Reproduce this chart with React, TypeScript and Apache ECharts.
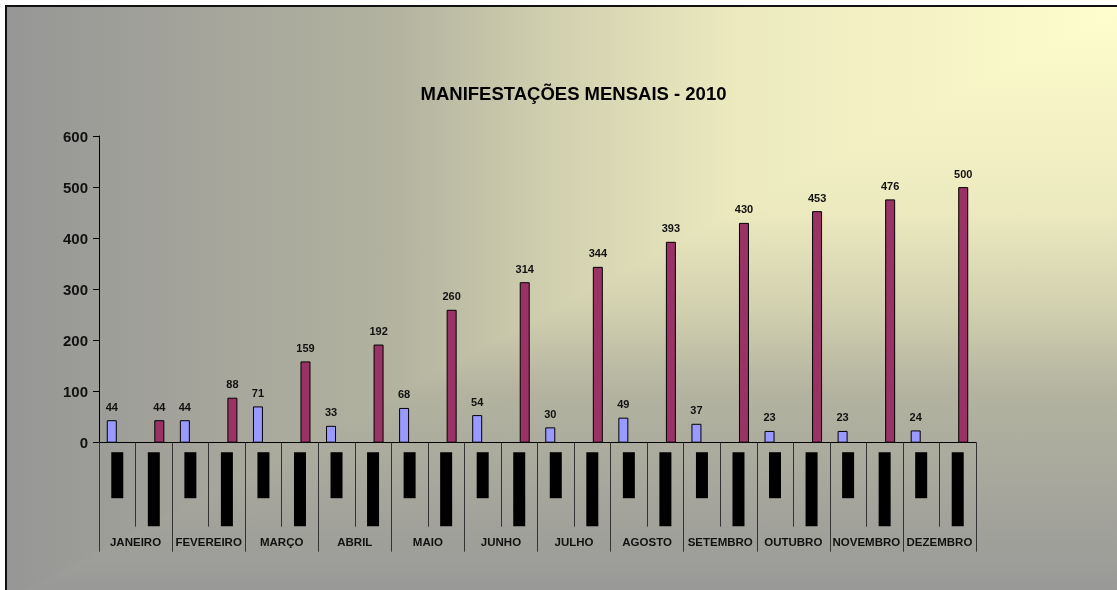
import React, { useEffect, useRef } from "react";
import * as echarts from "echarts";

const titleText = "MANIFESTAÇÕES MENSAIS - 2010";
const months = [
  "JANEIRO", "FEVEREIRO", "MARÇO", "ABRIL", "MAIO", "JUNHO",
  "JULHO", "AGOSTO", "SETEMBRO", "OUTUBRO", "NOVEMBRO", "DEZEMBRO",
];
const monthly = [44, 44, 71, 33, 68, 54, 30, 49, 37, 23, 23, 24];
const cumulative = [44, 88, 159, 192, 260, 314, 344, 393, 430, 453, 476, 500];
const yMin = 0;
const yMax = 600;
const yStep = 100;

const FONT = "'Liberation Sans', Arial, sans-serif";

export default function App() {
  const ref = useRef<HTMLDivElement>(null);

  useEffect(() => {
    if (!ref.current) return;
    const chart = echarts.init(ref.current, null, { renderer: "svg" });

    const subCats: string[] = [];
    const blueData: (number | null)[] = [];
    const redData: (number | null)[] = [];
    const blockData: number[][] = [];
    months.forEach((m, i) => {
      subCats.push(m + " mensal", m + " acumulado");
      blueData.push(monthly[i], null);
      redData.push(null, cumulative[i]);
    });
    subCats.forEach((_, i) => blockData.push([i, 0]));

    const stopsH = [
      { offset: 0, color: "#969696" },
      { offset: 0.35, color: "#B3B3A0" },
      { offset: 0.5, color: "#D3D2B0" },
      { offset: 0.65, color: "#ECE9BF" },
      { offset: 1, color: "#FFFECD" },
    ];
    const stopsV = [
      { offset: 0, color: "#FFFECD" },
      { offset: 0.35, color: "#ECE9BF" },
      { offset: 0.5, color: "#D3D2B0" },
      { offset: 0.65, color: "#B3B3A0" },
      { offset: 1, color: "#989898" },
    ];
    const bx0 = 6, by0 = 6, bx1 = 1125, by1 = 600;

    const labelStyle = {
      show: true,
      position: "top" as const,
      distance: 8,
      fontSize: 11,
      fontWeight: "bold" as const,
      fontFamily: FONT,
      color: "#111",
    };

    chart.setOption({
      animation: false,
      graphic: [
        {
          type: "rect",
          z: -10,
          silent: true,
          shape: { x: bx0, y: by0, width: bx1 - bx0, height: by1 - by0 },
          style: {
            fill: new echarts.graphic.LinearGradient(0, 0, 1, 0, stopsH),
          },
        },
        {
          type: "polygon",
          z: -9,
          silent: true,
          shape: { points: [[bx1, by0], [bx1, by1], [bx0, by1]] },
          style: {
            fill: new echarts.graphic.LinearGradient(0, 0, 0, 1, stopsV),
          },
        },
        {
          type: "rect",
          z: -8,
          silent: true,
          shape: { x: bx0, y: by0, width: 1300, height: 800 },
          style: { fill: "none", stroke: "#111", lineWidth: 2 },
        },
      ],
      title: {
        text: titleText,
        left: 573.5,
        top: 83,
        textAlign: "center",
        padding: 0,
        textStyle: {
          fontSize: 18.5,
          fontWeight: "bold",
          fontFamily: FONT,
          color: "#000",
          lineHeight: 20,
        },
      },
      grid: { left: 99, right: 141, top: 136, bottom: 147.3, containLabel: false },
      xAxis: [
        {
          type: "category",
          position: "bottom",
          data: subCats,
          boundaryGap: true,
          axisLine: { show: true, lineStyle: { color: "#000", width: 1 } },
          axisTick: { show: true, interval: 0, length: 84, lineStyle: { color: "#333", width: 1 } },
          axisLabel: { show: false },
          splitLine: { show: false },
        },
        {
          type: "category",
          position: "bottom",
          data: months,
          boundaryGap: true,
          axisLine: { show: false },
          axisTick: { show: true, interval: 0, length: 109, lineStyle: { color: "#333", width: 1 } },
          axisLabel: {
            show: true,
            interval: 0,
            margin: 93,
            fontSize: 11.5,
            fontWeight: "bold",
            fontFamily: FONT,
            color: "#111",
          },
          splitLine: { show: false },
        },
      ],
      yAxis: {
        type: "value",
        min: yMin,
        max: yMax,
        interval: yStep,
        axisLine: { show: true, lineStyle: { color: "#000", width: 1 } },
        axisTick: { show: true, length: 6, lineStyle: { color: "#000" } },
        splitLine: { show: false },
        axisLabel: {
          margin: 11,
          fontSize: 15,
          fontWeight: "bold",
          fontFamily: FONT,
          color: "#111",
        },
      },
      series: [
        {
          name: "Mensal",
          type: "bar",
          xAxisIndex: 0,
          data: blueData,
          barWidth: 10,
          barGap: "10%",
          itemStyle: { color: "#9999FF", borderColor: "#000", borderWidth: 1 },
          label: labelStyle,
        },
        {
          name: "Acumulado",
          type: "bar",
          xAxisIndex: 0,
          data: redData,
          barWidth: 10,
          barGap: "10%",
          itemStyle: { color: "#993366", borderColor: "#000", borderWidth: 1 },
          label: labelStyle,
        },
        {
          name: "blocks",
          type: "custom",
          xAxisIndex: 0,
          silent: true,
          clip: false,
          data: blockData,
          renderItem: (params: any, api: any) => {
            const idx = api.value(0);
            const p = api.coord([idx, 0]);
            const h = idx % 2 === 0 ? 46 : 74;
            return {
              type: "rect",
              shape: { x: p[0] - 6, y: p[1] + 9.5, width: 12, height: h },
              style: { fill: "#000" },
            };
          },
        },
      ],
    });

    return () => chart.dispose();
  }, []);

  return (
    <div
      ref={ref}
      style={{ position: "fixed", left: 0, top: 0, width: 1117, height: 590 }}
    />
  );
}
